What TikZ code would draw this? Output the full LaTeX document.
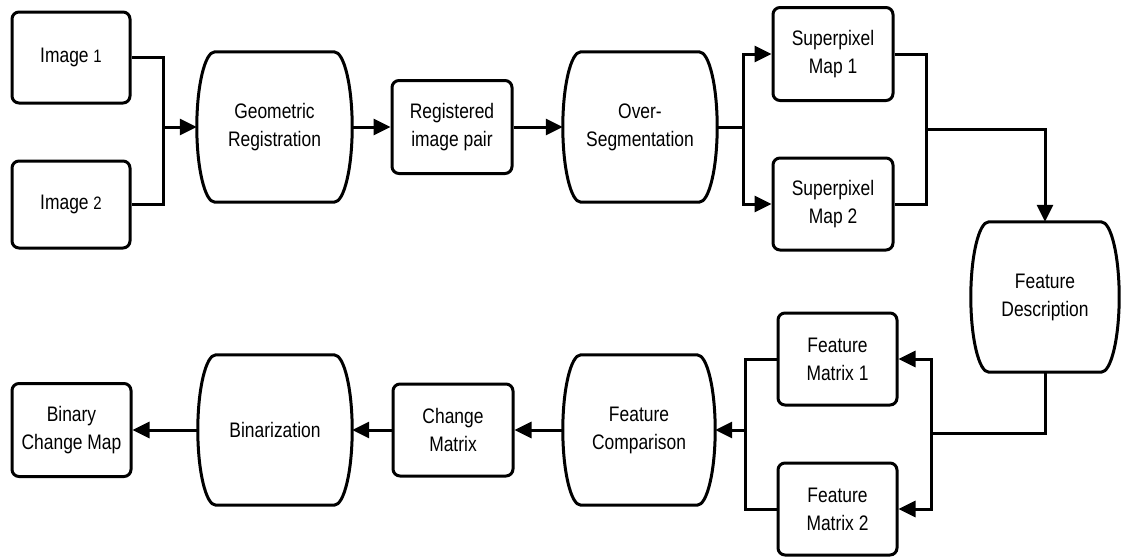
\documentclass[tikz,border=0pt]{standalone}
\usepackage{fontspec}
\setmainfont{Liberation Sans}[FakeStretch=0.83]
\usetikzlibrary{arrows.meta,calc}
\begin{document}
\begin{tikzpicture}[x=1pt,y=-1pt,
  txt/.style={font=\fontsize{21}{28}\selectfont,align=center,inner sep=0pt},
  box/.style={txt,draw,line width=3pt,rounded corners=7pt},
  barrelnode/.style={txt},
  conn/.style={line width=3pt},
  arr/.style={conn,-{Triangle[length=17pt,width=16pt]}}]
\useasboundingbox (0,0) rectangle (1121,557);
% top row
\node[box,minimum width=118pt,minimum height=91pt] (img1) at (71,57.5) {Image {\fontsize{18}{28}\selectfont 1}};
\node[box,minimum width=118pt,minimum height=87pt] (img2) at (71,204.5) {Image {\fontsize{18}{28}\selectfont 2}};
\node[barrelnode,minimum width=155pt,minimum height=150pt] (geo) at (274.5,127) {Geometric\\Registration};
\node[box,minimum width=120pt,minimum height=93pt] (reg) at (452,127) {Registered\\image pair};
\node[barrelnode,minimum width=154pt,minimum height=150pt] (over) at (640,127) {Over-\\Segmentation};
\node[box,minimum width=120pt,minimum height=93pt] (sp1) at (833,54) {Superpixel\\Map 1};
\node[box,minimum width=120pt,minimum height=92pt] (sp2) at (833,204) {Superpixel\\Map 2};
\node[barrelnode,minimum width=148pt,minimum height=150pt] (fdesc) at (1045,297) {Feature\\Description};
% bottom row
\node[box,minimum width=119pt,minimum height=92pt] (fm1) at (837.5,359) {Feature\\Matrix 1};
\node[box,minimum width=119pt,minimum height=92pt] (fm2) at (837.5,509) {Feature\\Matrix 2};
\node[barrelnode,minimum width=152pt,minimum height=150pt] (fcomp) at (639,430) {Feature\\Comparison};
\node[box,minimum width=120pt,minimum height=92pt] (cm) at (453,430) {Change\\Matrix};
\node[barrelnode,minimum width=154pt,minimum height=150pt] (bin) at (275,430) {Binarization};
\node[box,minimum width=119pt,minimum height=93pt] (bcm) at (71.5,430) {Binary\\Change Map};
% barrel outlines (sides are half ellipses)
\foreach \n in {geo,over,fdesc,fcomp,bin}{
  \draw[conn] ($(\n.north west)+(18,0)$) -- ($(\n.north east)+(-18,0)$)
    .. controls ($(\n.north east)+(-8,0)$) and ($(\n.east)+(0,-41)$) .. (\n.east)
    .. controls ($(\n.east)+(0,41)$) and ($(\n.south east)+(-8,0)$) .. ($(\n.south east)+(-18,0)$)
    -- ($(\n.south west)+(18,0)$)
    .. controls ($(\n.south west)+(8,0)$) and ($(\n.west)+(0,41)$) .. (\n.west)
    .. controls ($(\n.west)+(0,-41)$) and ($(\n.north west)+(8,0)$) .. cycle;
}
% junctions
\coordinate (j1) at (163,127);
\coordinate (j2) at (743,127);
\coordinate (j3) at (926,129);
\coordinate (j4) at (931,433);
\coordinate (j5) at (745,430);
% connectors
\draw[conn] (img1.east) -| (j1) |- (img2.east);
\draw[arr] (j1) -- (geo.west);
\draw[arr] (geo.east) -- (reg.west);
\draw[arr] (reg.east) -- (over.west);
\draw[conn] (over.east) -- (j2);
\draw[arr] (j2) |- (sp1.west);
\draw[arr] (j2) |- (sp2.west);
\draw[conn] (sp1.east) -| (j3) |- (sp2.east);
\draw[arr] (j3) -| (fdesc.north);
\draw[conn] (fdesc.south) |- (j4);
\draw[arr] (j4) |- (fm1.east);
\draw[arr] (j4) |- (fm2.east);
\draw[conn] (fm1.west) -| (j5) |- (fm2.west);
\draw[arr] (j5) -- (fcomp.east);
\draw[arr] (fcomp.west) -- (cm.east);
\draw[arr] (cm.west) -- (bin.east);
\draw[arr] (bin.west) -- (bcm.east);
\end{tikzpicture}
\end{document}
